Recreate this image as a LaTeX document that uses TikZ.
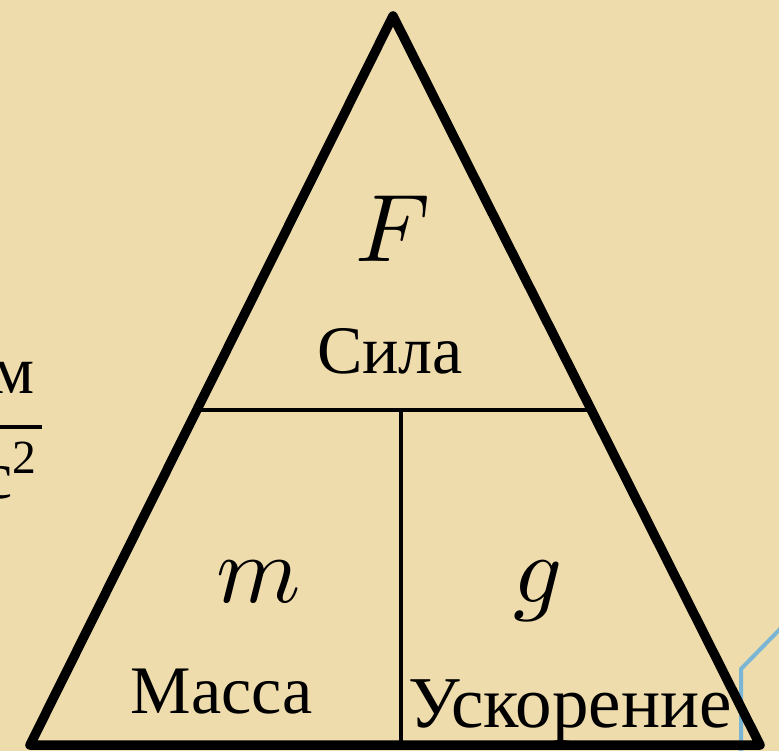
\documentclass[tikz,border=0pt]{standalone}
\usepackage{fontspec}
\setmainfont{Liberation Serif}
\usepackage{unicode-math}
\setmathfont{Latin Modern Math}
\usepackage{xcolor}
\usepackage{tikz}
\usetikzlibrary{calc}
\definecolor{parchment}{RGB}{238,220,172}
\definecolor{skyline}{RGB}{122,182,212}
\tikzset{
  frameedge/.style={line width=9.5pt,line join=round,line cap=round,draw=black},
  splitedge/.style={line width=4.5pt,draw=black},
  word/.style={font=\fontsize{68}{70}\selectfont,inner sep=0pt,anchor=base},
  quantity/.style={font=\fontsize{96}{100}\selectfont,inner sep=0pt,anchor=base}
}
\begin{document}
\begin{tikzpicture}[
  x=1pt,y=-1pt,
  sideline/.style={line width=4pt,draw=skyline,line join=miter}
]

  \fill[parchment] (0,0) rectangle (779,751);
  \useasboundingbox (0,0) rectangle (779,751);
  \clip (0,0) rectangle (779,751);

  % corners of the triangle
  \coordinate (apex) at (393,16);
  \coordinate (bl)   at (30,745);
  \coordinate (br)   at (760,745);

  % dividing lines
  \coordinate (cutL) at ($(apex)!0.5405!(bl)$);
  \coordinate (cutR) at ($(apex)!0.5405!(br)$);
  \coordinate (mid)  at (401,410);
  \coordinate (foot) at (401,745);

  % piece of a neighbouring figure
  \coordinate (s1) at (782,627);
  \coordinate (s2) at (741,669);
  \coordinate (s3) at (741,760);
  \draw[sideline] (s1)--(s2)--(s3);

  % unit to the left
  \node[word,anchor=base] (num) at (13,393) {м};
  \coordinate (barL) at (-20,427);
  \coordinate (barR) at (42,427);
  \draw[splitedge] (barL)--(barR);
  \node[word,anchor=base west] (den) at (-18,498) {с\textsuperscript{2}};

  \node[quantity] (force) at (393,262) {$F$};
  \node[word] (forcetxt) at (390,373) {Сила};

  \node[quantity] (mass) at (259,602) {$m$};
  \node[word] (masstxt) at (222,713) {Масса};

  \node[quantity] (acc) at (538,602) {$g$};
  \node[word,font=\fontsize{73}{75}\selectfont] (acctxt) at (570,727) {Ускорение};

  \draw[splitedge] (cutL)--(cutR);
  \draw[splitedge] (mid)--(foot);

  \draw[frameedge] (apex)--(bl)--(br)--cycle;
\end{tikzpicture}
\end{document}
